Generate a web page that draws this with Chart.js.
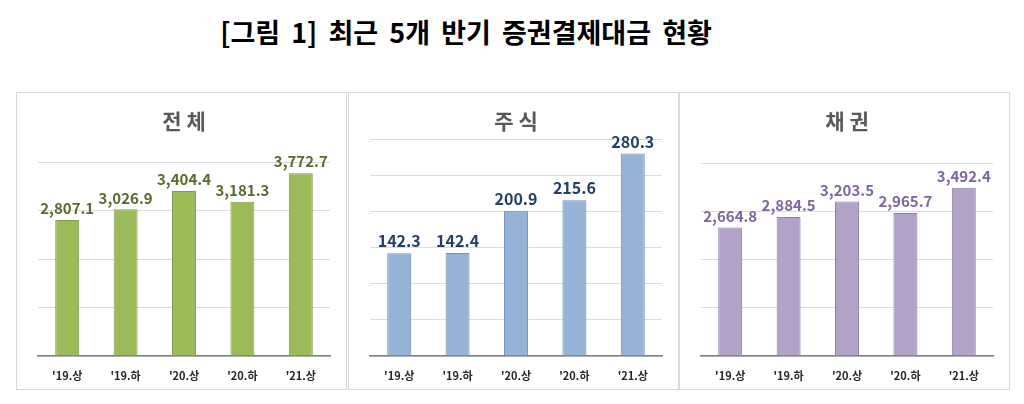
<!DOCTYPE html>
<html>
<head>
<meta charset="utf-8">
<script src="https://cdn.jsdelivr.net/npm/chart.js@4"></script>
<style>
  body { margin:0; background:#fff; width:1024px; height:404px; position:relative; overflow:hidden;
         font-family:"Noto Sans CJK KR","Noto Sans",sans-serif; }
  #title { position:absolute; left:0; top:12px; width:932px; text-align:center;
           font-size:27px; font-weight:bold; color:#000; line-height:40px; word-spacing:5px; }
  .panel { position:absolute; top:92px; width:331px; height:298px; box-sizing:border-box;
           border:1px solid #d9d9d9; }
  .panel canvas { display:block; }
</style>
</head>
<body>
<div id="title">[그림 1] 최근 5개 반기 증권결제대금 현황</div>
<div class="panel" style="left:16px"><canvas id="c0" width="329" height="296"></canvas></div>
<div class="panel" style="left:348px"><canvas id="c1" width="329" height="296"></canvas></div>
<div class="panel" style="left:679px"><canvas id="c2" width="329" height="296"></canvas></div>
<script>
const periods = ["'19.상", "'19.하", "'20.상", "'20.하", "'21.상"];
const totalValues = [2807.1, 3026.9, 3404.4, 3181.3, 3772.7];
const stockValues = [142.3, 142.4, 200.9, 215.6, 280.3];
const bondValues = [2664.8, 2884.5, 3203.5, 2965.7, 3492.4];
const panelTitles = ["전 체", "주 식", "채 권"];
const yMax = [4000, 300, 4000];
const yStep = [1000, 50, 1000];

const FONT = '"Noto Sans CJK KR", "Noto Sans", sans-serif';

// per panel look
const looks = [
  { values: totalValues, fill: "#9bbb59", edge: "#7f9c45", label: "#566b2c", labelSize: 15, titleGap: 29 },
  { values: stockValues, fill: "#95b3d7", edge: "#6f8fba", label: "#243f60", labelSize: 16, titleGap: 6 },
  { values: bondValues, fill: "#b3a2c7", edge: "#907ab0", label: "#7d65a0", labelSize: 15, titleGap: 30 }
];

const valueLabels = {
  id: "valueLabels",
  afterDatasetsDraw(chart, args, opts) {
    const ctx = chart.ctx;
    const meta = chart.getDatasetMeta(0);
    const vals = chart.data.datasets[0].data;
    ctx.save();
    ctx.font = "bold " + opts.size + "px " + FONT;
    ctx.fillStyle = opts.color;
    ctx.textAlign = "center";
    ctx.textBaseline = "bottom";
    meta.data.forEach((bar, i) => {
      const txt = vals[i].toLocaleString("en-US", { minimumFractionDigits: 1, maximumFractionDigits: 1 });
      ctx.fillText(txt, bar.x, bar.y - 4);
    });
    ctx.restore();
  }
};

looks.forEach((lk, i) => {
  new Chart(document.getElementById("c" + i), {
    type: "bar",
    data: {
      labels: periods,
      datasets: [{
        data: lk.values,
        backgroundColor: lk.fill,
        borderColor: lk.edge,
        borderWidth: 1,
        categoryPercentage: 1,
        barPercentage: 0.41
      }]
    },
    options: {
      responsive: false,
      animation: false,
      layout: { padding: { left: 21, right: 16, top: 0, bottom: 7 } },
      plugins: {
        legend: { display: false },
        tooltip: { enabled: false },
        title: {
          display: true,
          text: panelTitles[i],
          color: "#595959",
          font: { family: FONT, size: 21, weight: "bold" },
          padding: { top: 15, bottom: lk.titleGap }
        },
        valueLabels: { size: lk.labelSize, color: lk.label }
      },
      scales: {
        x: {
          grid: { display: false, drawTicks: false },
          border: { display: true, color: "#7f7f7f", width: 1.5 },
          ticks: { color: "#262626", padding: 13, font: { family: FONT, size: 11, weight: "bold" } },
          afterFit: s => { s.height = 26; }
        },
        y: {
          min: 0,
          max: yMax[i],
          ticks: { display: false, stepSize: yStep[i] },
          grid: { color: "#dcdcdc", drawTicks: false },
          border: { display: false },
          afterFit: s => { s.width = 0; }
        }
      }
    },
    plugins: [valueLabels]
  });
});
</script>
</body>
</html>
